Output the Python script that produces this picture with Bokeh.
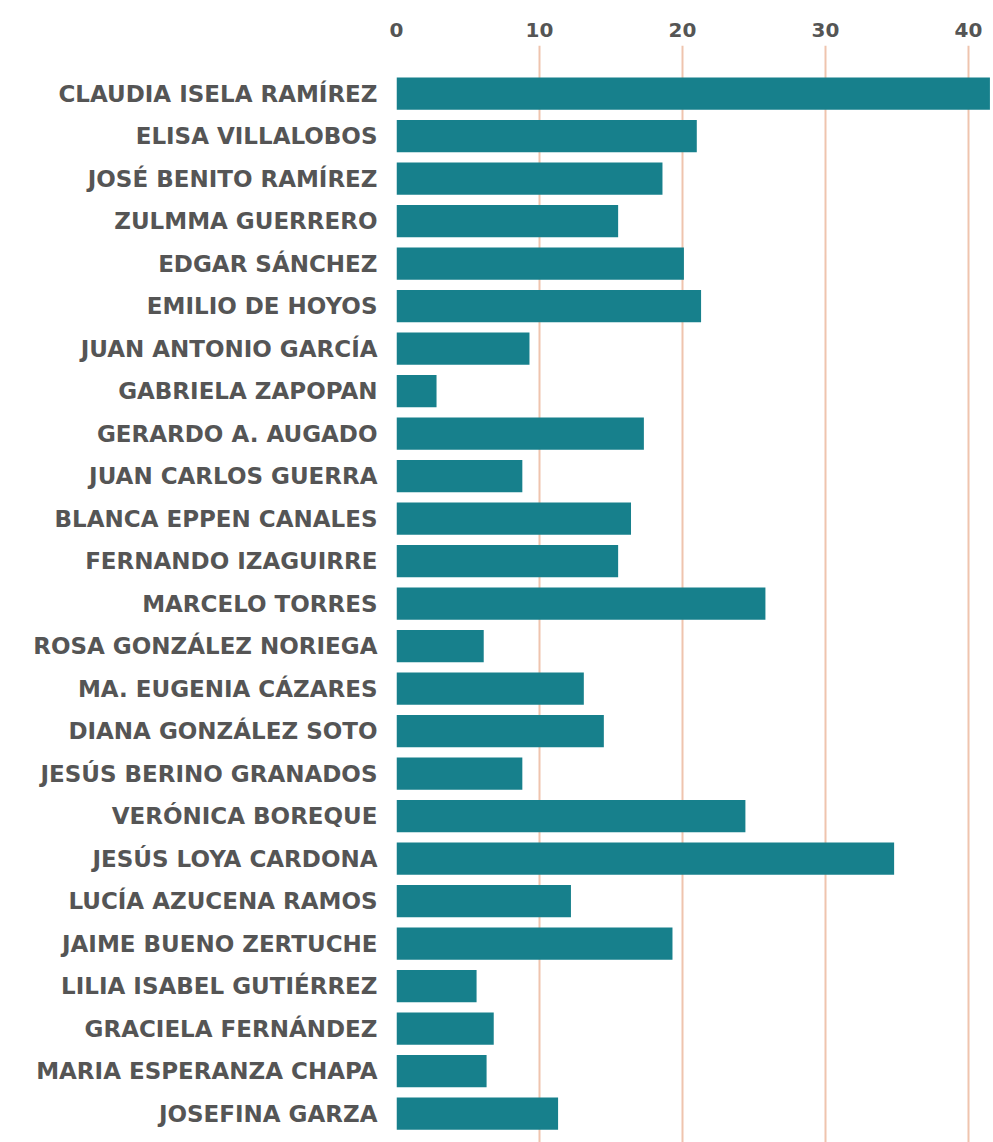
from bokeh.plotting import figure
from bokeh.models import Range1d, FixedTicker, ColumnDataSource
from bokeh.embed import file_html
from bokeh.resources import INLINE

names = [
    "CLAUDIA ISELA RAMÍREZ", "ELISA VILLALOBOS", "JOSÉ BENITO RAMÍREZ",
    "ZULMMA GUERRERO", "EDGAR SÁNCHEZ", "EMILIO DE HOYOS",
    "JUAN ANTONIO GARCÍA", "GABRIELA ZAPOPAN", "GERARDO A. AUGADO",
    "JUAN CARLOS GUERRA", "BLANCA EPPEN CANALES", "FERNANDO IZAGUIRRE",
    "MARCELO TORRES", "ROSA GONZÁLEZ NORIEGA", "MA. EUGENIA CÁZARES",
    "DIANA GONZÁLEZ SOTO", "JESÚS BERINO GRANADOS", "VERÓNICA BOREQUE",
    "JESÚS LOYA CARDONA", "LUCÍA AZUCENA RAMOS", "JAIME BUENO ZERTUCHE",
    "LILIA ISABEL GUTIÉRREZ", "GRACIELA FERNÁNDEZ", "MARIA ESPERANZA CHAPA",
    "JOSEFINA GARZA",
]
values = [
    41.5, 21.0, 18.6, 15.5, 20.1, 21.3, 9.3, 2.8, 17.3, 8.8, 16.4, 15.5,
    25.8, 6.1, 13.1, 14.5, 8.8, 24.4, 34.8, 12.2, 19.3, 5.6, 6.8, 6.3, 11.3,
]
x_ticks = [0, 10, 20, 30, 40]

idx = list(range(len(names)))
src = ColumnDataSource(dict(y=idx, v=values, name=names))

p = figure(width=993, height=1142, output_backend="svg", toolbar_location=None,
           x_range=Range1d(0, 41.75), y_range=Range1d(24.68, -1.13),
           x_axis_location="above",
           min_border_left=396, min_border_right=0,
           min_border_top=45, min_border_bottom=0)
p.outline_line_color = None
p.background_fill_color = "white"
p.border_fill_color = "white"

p.xgrid.ticker = FixedTicker(ticks=x_ticks)
p.xgrid.grid_line_color = "#efc4ae"
p.xgrid.grid_line_width = 2
p.ygrid.grid_line_color = None

p.hbar(y="y", left=0, right="v", height=0.76, source=src,
       fill_color="#17808c", line_color=None)

xa = p.xaxis[0]
xa.ticker = FixedTicker(ticks=x_ticks)
xa.axis_line_color = None
xa.major_tick_line_color = None
xa.minor_tick_line_color = None
xa.major_tick_out = 0
xa.major_tick_in = 0
xa.major_label_standoff = 9
xa.major_label_text_font = "DejaVu Sans"
xa.major_label_text_font_style = "bold"
xa.major_label_text_font_size = "20px"
xa.major_label_text_color = "#555555"

ya = p.yaxis[0]
ya.ticker = FixedTicker(ticks=idx)
ya.major_label_overrides = {i: n for i, n in enumerate(names)}
ya.axis_line_color = None
ya.major_tick_line_color = None
ya.minor_tick_line_color = None
ya.major_tick_out = 0
ya.major_tick_in = 0
ya.major_label_standoff = 19
ya.major_label_text_font = "DejaVu Sans"
ya.major_label_text_font_style = "bold"
ya.major_label_text_font_size = "23px"
ya.major_label_text_color = "#555555"

open("out.html", "w").write(file_html(p, INLINE))
